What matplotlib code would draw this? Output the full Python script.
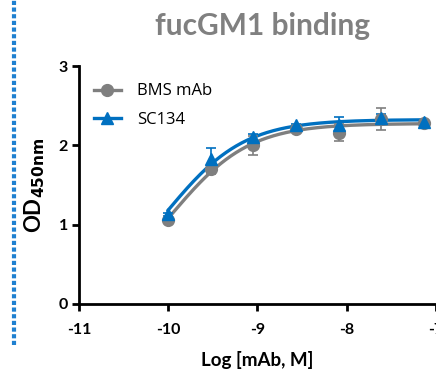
"""
fucGM1 binding ELISA: BMS mAb vs SC134, OD450 against log concentration.
"""

import numpy as np
import matplotlib
matplotlib.use("Agg")
import matplotlib.pyplot as plt
from matplotlib.lines import Line2D

plt.rcParams["font.family"] = ["Lato", "DejaVu Sans"]

# log10 concentration (3-fold dilution series)
log_conc = [-10.0, -9.523, -9.046, -8.569, -8.092, -7.615, -7.138]

bms_mean = [1.06, 1.70, 2.00, 2.20, 2.16, 2.33, 2.28]
bms_err = [0.02, 0.06, 0.12, 0.03, 0.11, 0.14, 0.03]

sc134_mean = [1.13, 1.83, 2.10, 2.25, 2.26, 2.34, 2.30]
sc134_err = [0.02, 0.13, 0.04, 0.02, 0.10, 0.05, 0.02]

series_names = ["BMS mAb", "SC134"]
x_ticks = [-11, -10, -9, -8, -7]
y_ticks = [0, 1, 2, 3]

GREY = "#7f7f7f"
BLUE = "#0070c0"


def fit_hyperbola(logx, y):
    """One-site binding fit y = Bmax*x/(Kd+x); grid search on Kd,
    closed-form Bmax."""
    x = 10.0 ** np.asarray(logx)
    y = np.asarray(y)
    best = None
    for lkd in np.linspace(-11.5, -8.5, 3001):
        f = x / (10.0 ** lkd + x)
        bmax = np.dot(f, y) / np.dot(f, f)
        sse = np.sum((y - bmax * f) ** 2)
        if best is None or sse < best[0]:
            best = (sse, bmax, 10.0 ** lkd)
    return best[1], best[2]


fig = plt.figure(figsize=(4.36, 3.71), dpi=100)
ax = fig.add_axes([0.181, 0.181, 0.819, 0.641])

xs = np.linspace(log_conc[0], log_conc[-1], 200)
for mean, err, color, marker, name in [
    (bms_mean, bms_err, GREY, "o", series_names[0]),
    (sc134_mean, sc134_err, BLUE, "^", series_names[1]),
]:
    bmax, kd = fit_hyperbola(log_conc, mean)
    ax.plot(xs, bmax * 10.0 ** xs / (kd + 10.0 ** xs), color=color, lw=2.4,
            zorder=2)
    ax.errorbar(log_conc, mean, yerr=err, fmt=marker, color=color, ms=8.5,
                ecolor=color, elinewidth=1.2, capsize=3.5, capthick=1.2,
                zorder=3, clip_on=False)

handles = [
    Line2D([], [], color=GREY, marker="o", ms=8.5, lw=2.4),
    Line2D([], [], color=BLUE, marker="^", ms=8.5, lw=2.4),
]
ax.legend(handles, series_names, loc="upper left", frameon=False,
          handlelength=1.6, handletextpad=1.0, labelspacing=0.75,
          bbox_to_anchor=(0.0, 0.99),
          prop={"family": "Open Sans", "size": 12})

ax.set_xlim(-11, -7)
ax.set_ylim(0, 3)
ax.set_xticks(x_ticks)
ax.set_yticks(y_ticks)
ax.set_xticklabels([str(t) for t in x_ticks], fontweight="bold", fontsize=11.5)
ax.set_yticklabels([str(t) for t in y_ticks], fontweight="bold", fontsize=11.5)
for s in ["top", "right"]:
    ax.spines[s].set_visible(False)
for s in ["left", "bottom"]:
    ax.spines[s].set_linewidth(2)
ax.tick_params(width=2, length=5, direction="out")
ax.tick_params(axis="x", pad=9)
ax.tick_params(axis="y", pad=3)

ax.set_xlabel("Log [mAb, M]", fontweight="bold", fontsize=13.5, labelpad=10)
ax.set_ylabel(r"OD$_{\mathbf{450nm}}$", fontweight="bold", fontsize=16,
              labelpad=8)

fig.text(0.603, 0.93, "fucGM1 binding", ha="center", va="center",
         fontsize=21.5, fontweight="bold", color="#808080")

# dotted slide border on the left
fig.add_artist(Line2D([0.032, 0.032], [0.07, 1.0], color="#1f80d0", lw=3,
                      linestyle=(0, (1, 0.6)), transform=fig.transFigure))

fig.savefig("out.png", dpi=100)
